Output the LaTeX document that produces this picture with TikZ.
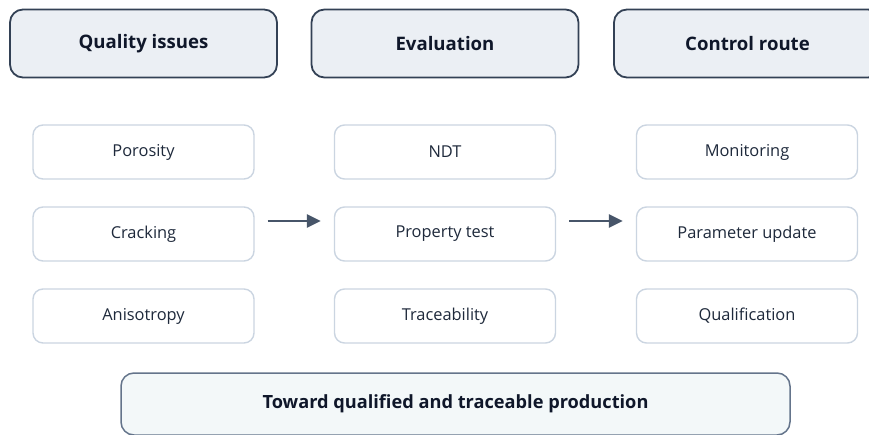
\documentclass[tikz,border=0pt]{standalone}
\usepackage{fontspec}
\setmainfont{Open Sans}
\usetikzlibrary{arrows.meta}
\definecolor{headfill}{HTML}{EBEFF4}
\definecolor{headline}{HTML}{334155}
\definecolor{itemline}{HTML}{CBD5E1}
\definecolor{itemtext}{HTML}{1E293B}
\definecolor{titletext}{HTML}{0F172A}
\definecolor{footfill}{HTML}{F3F8F9}
\definecolor{footline}{HTML}{64748B}
\definecolor{arrowcol}{HTML}{475569}
\tikzset{
  header/.style={draw=headline, fill=headfill, line width=1.8pt, rounded corners=13pt,
    minimum width=267pt, minimum height=68pt, inner sep=0pt,
    font=\fontsize{18.6}{22}\selectfont\bfseries, text=titletext},
  item/.style={draw=itemline, fill=white, line width=1.4pt, rounded corners=10pt,
    minimum width=221pt, minimum height=54pt, inner sep=0pt,
    font=\fontsize{16.4}{19}\selectfont, text=itemtext},
  footer/.style={draw=footline, fill=footfill, line width=1.5pt, rounded corners=13pt,
    minimum width=669pt, minimum height=62pt, inner sep=0pt,
    font=\fontsize{18.2}{22}\selectfont\bfseries, text=titletext},
  flow/.style={draw=arrowcol, line width=2.8pt, -{Triangle[length=14pt,width=13pt]}}
}
\begin{document}
\begin{tikzpicture}[x=1pt, y=-1pt]
\useasboundingbox (0,0) rectangle (869,435);
\clip (0,0) rectangle (869,435);
% column headers
\node[header] (h1) at (143.5,43.5) {Quality issues};
\node[header] (h2) at (445,43.5) {Evaluation};
\node[header] (h3) at (747.5,43.5) {Control route};
% quality issues
\node[item] (porosity) at (143.5,152) {Porosity};
\node[item] (cracking) at (143.5,234) {Cracking};
\node[item] (aniso) at (143.5,316) {Anisotropy};
% evaluation
\node[item] (ndt) at (445,152) {NDT};
\node[item] (prop) at (445,234) {Property test};
\node[item] (trace) at (445,316) {Traceability};
% control route
\node[item] (monitor) at (747,152) {Monitoring};
\node[item] (param) at (747,234) {Parameter update};
\node[item] (qual) at (747,316) {Qualification};
% flow between columns
\draw[flow, shorten <=13pt, shorten >=13pt] ([yshift=13pt]cracking.east) -- ([yshift=13pt]prop.west);
\draw[flow, shorten <=13pt, shorten >=13pt] ([yshift=13pt]prop.east) -- ([yshift=13pt]param.west);
% outcome
\node[footer] (goal) at (455.5,404) {Toward qualified and traceable production};
\end{tikzpicture}
\end{document}
